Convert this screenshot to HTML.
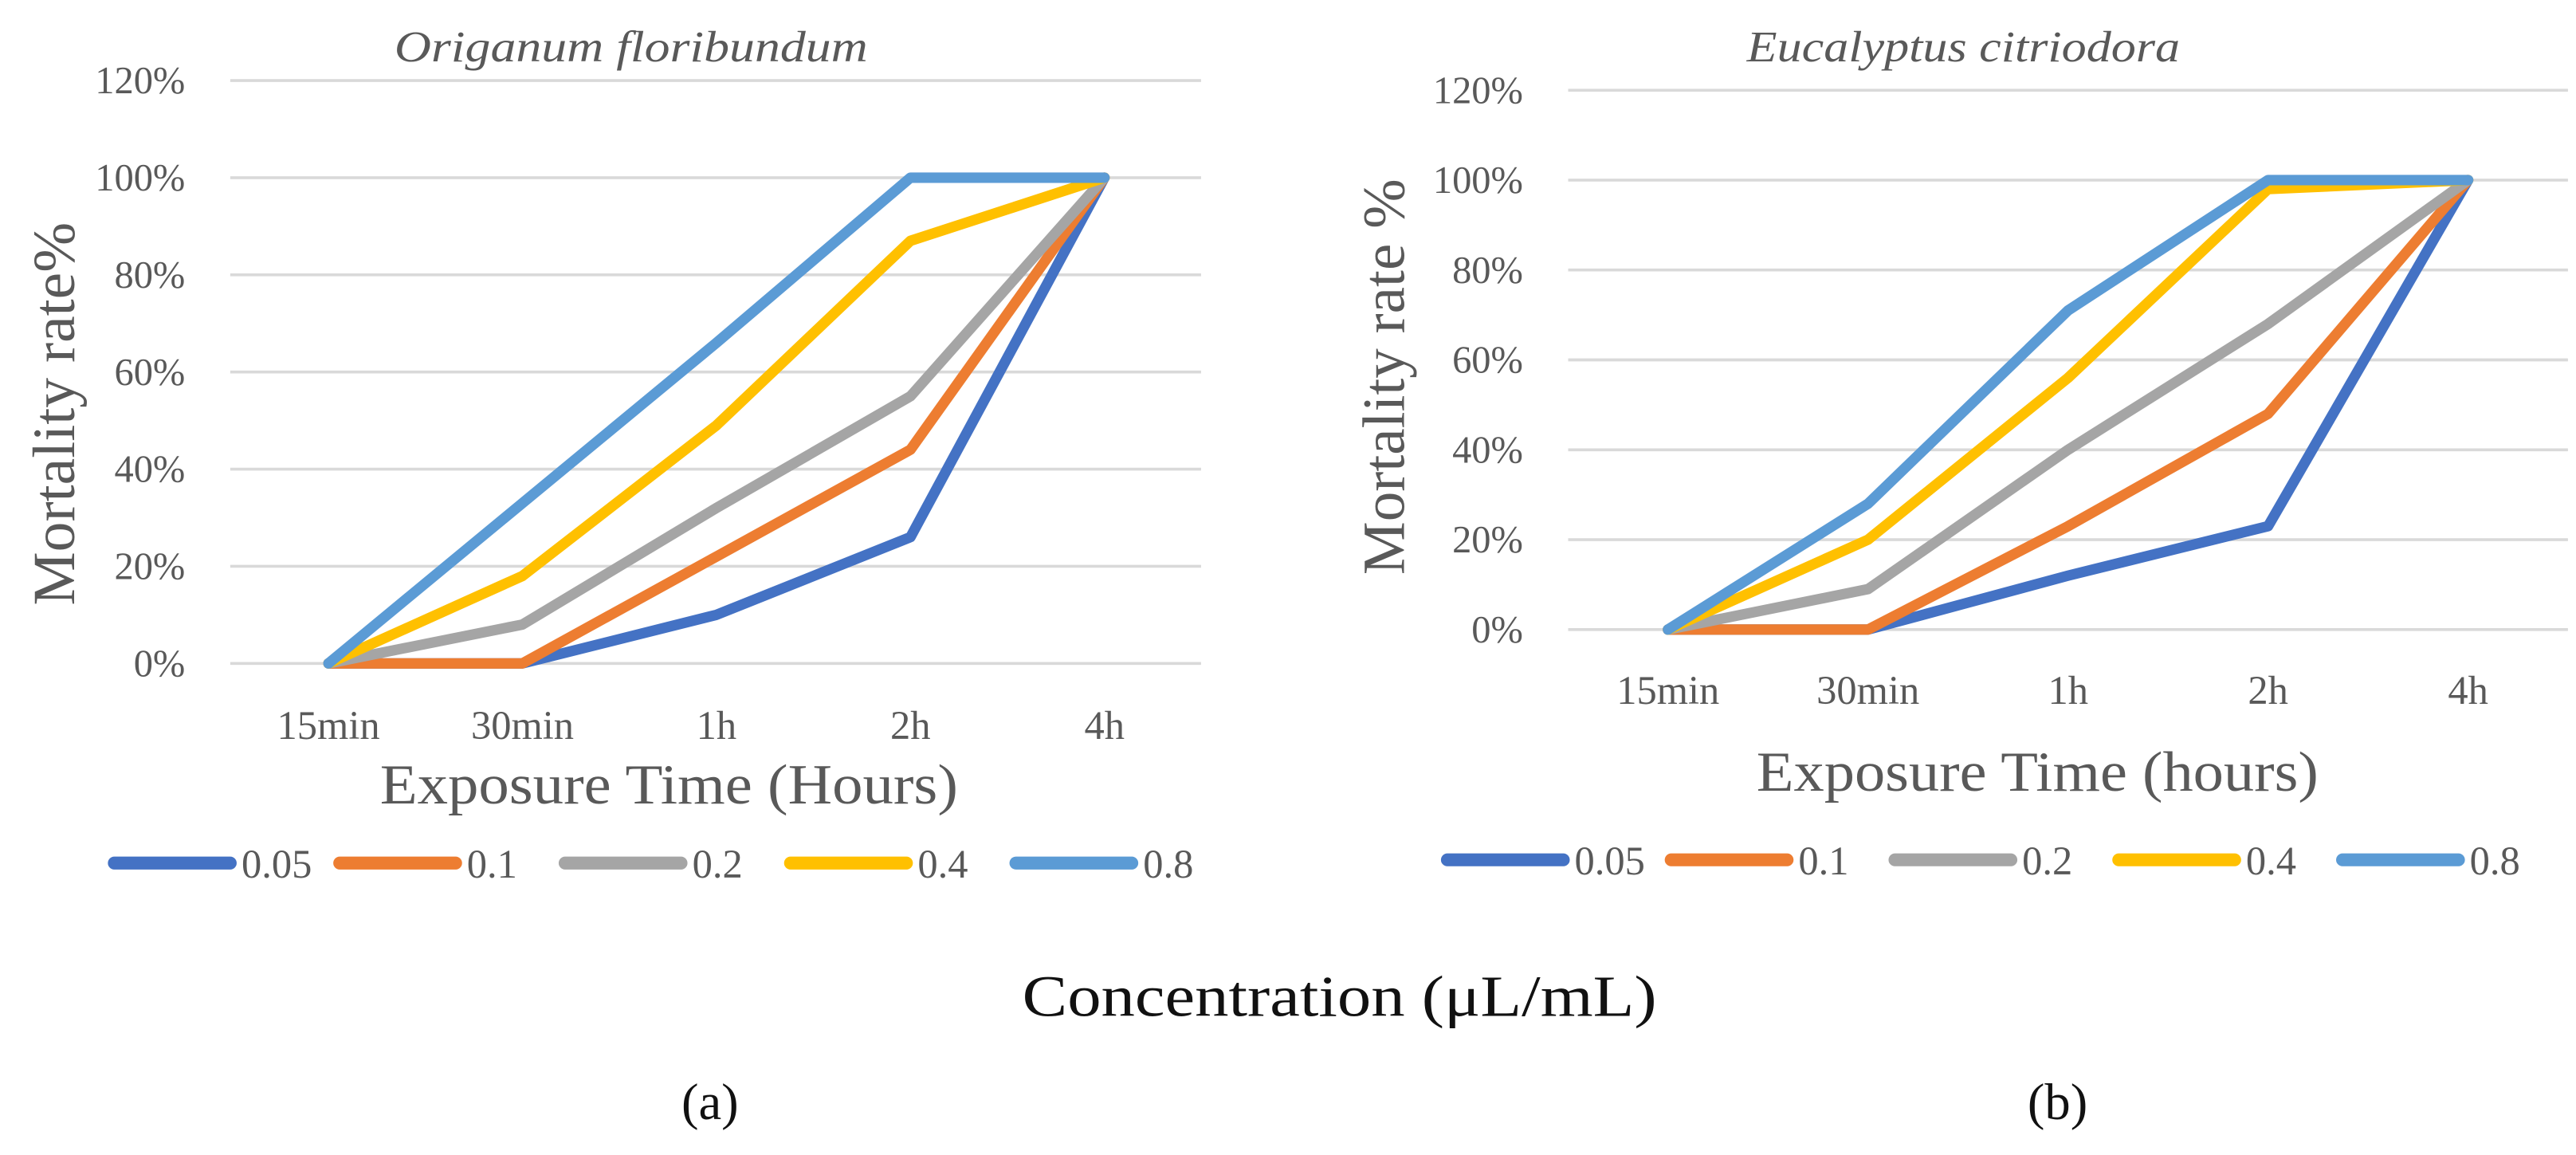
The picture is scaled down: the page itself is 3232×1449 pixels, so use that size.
<!DOCTYPE html>
<html><head><meta charset="utf-8"><style>
html,body{margin:0;padding:0;background:#fff;width:3232px;height:1449px;overflow:hidden}
svg text{font-family:"Liberation Serif",serif;fill:#595959}
</style></head><body>
<svg id="svg" width="3232" height="1449" viewBox="0 0 1600 717.3" xmlns="http://www.w3.org/2000/svg">
<text x="635" y="631" font-size="36" textLength="394" lengthAdjust="spacingAndGlyphs" style="fill:#111">Concentration (μL/mL)</text>
<text x="441" y="695" font-size="32" text-anchor="middle" style="fill:#111">(a)</text>
<text x="1278" y="695" font-size="32" text-anchor="middle" style="fill:#111">(b)</text>
</svg>
<script>
const categories = ["15min","30min","1h","2h","4h"];
const seriesNames = ["0.05","0.1","0.2","0.4","0.8"];
const colors = ["#4472C4","#ED7D31","#A5A5A5","#FFC000","#5B9BD5"];
const yTicks = [0,20,40,60,80,100,120];
const leftValues = [
 [0,0,10,26,100],
 [0,0,22,44,100],
 [0,8,32,55,100],
 [0,18,49,87,100],
 [0,33,66,100,100]
];
const rightValues = [
 [0,0,12,23,100],
 [0,0,23,48,100],
 [0,9,40,68,100],
 [0,20,56,98,100],
 [0,28,71,100,100]
];
const NS="http://www.w3.org/2000/svg";
const svg=document.getElementById('svg');
function mk(tag,attrs,parent){const e=document.createElementNS(NS,tag);for(const k in attrs)e.setAttribute(k,attrs[k]);(parent||svg).appendChild(e);return e;}
function panel(cfg,values){
  const g=mk('g',{});
  
  
  const y=v=>cfg.y0-(v/120)*(cfg.y0-cfg.y120);
  const x=i=>cfg.cx0+i*(cfg.cx4-cfg.cx0)/(categories.length-1);
  yTicks.forEach(t=>{
    const l=mk('line',{x1:cfg.gx0,x2:cfg.gx1,y1:y(t),y2:y(t),stroke:'#d9d9d9','stroke-width':1.8},g);
    
    
    const tx=mk('text',{x:cfg.tickRight,y:y(t)+8,'font-size':24,'text-anchor':'end'},g);
    tx.textContent=t+'%';
    
    
  });
  categories.forEach((c,i)=>{
    const tx=mk('text',{x:x(i),y:cfg.catY,'font-size':25,'text-anchor':'middle'},g);
    tx.textContent=c;
    
    
  });
  values.forEach((s,si)=>{
    const p=mk('polyline',{points:s.map((v,i)=>x(i)+','+y(v)).join(' '),fill:'none',stroke:colors[si],'stroke-width':6.5,'stroke-linejoin':'round','stroke-linecap':'round'},g);
    
    
  });
  const t=mk('text',{x:cfg.titleX,y:38,'font-size':27,'font-style':'italic',textLength:cfg.titleW,lengthAdjust:'spacingAndGlyphs'},g);
  t.textContent=cfg.title;
  
  
  const xt=mk('text',{x:cfg.xTitleX,y:cfg.xTitleY,'font-size':35,textLength:cfg.xTitleW,lengthAdjust:'spacingAndGlyphs'},g);
  xt.textContent=cfg.xTitle;
  
  
  const yt=mk('text',{x:-cfg.yTitleW/2,y:0,'font-size':37,textLength:cfg.yTitleW,lengthAdjust:'spacingAndGlyphs',transform:'translate('+cfg.yTitleX+','+cfg.yTitleY+') rotate(-90)'},g);
  yt.textContent=cfg.yTitle;
  
  
  seriesNames.forEach((n,i)=>{
    const lx=cfg.legX+i*cfg.legDx;
    const ln=mk('line',{x1:lx+4,x2:lx+76,y1:cfg.legY,y2:cfg.legY,stroke:colors[i],'stroke-width':8,'stroke-linecap':'round'},g);
    
    
    const lt=mk('text',{x:lx+83,y:cfg.legY+9,'font-size':25},g);
    lt.textContent=n;
    
    
  });
}
panel({id:'origanum',y0:412,y120:50,gx0:143,gx1:746,cx0:204,cx4:686,tickRight:115,catY:459,title:'Origanum floribundum',titleX:245,titleW:294,xTitle:'Exposure Time (Hours)',xTitleX:236,xTitleW:359,xTitleY:499,yTitle:'Mortality rate%',yTitleW:238,yTitleX:46,yTitleY:257,legX:67,legDx:140,legY:536},leftValues);
panel({id:'eucalyptus',y0:391,y120:56,gx0:974,gx1:1595,cx0:1036,cx4:1533,tickRight:946,catY:437,title:'Eucalyptus citriodora',titleX:1085,titleW:269,xTitle:'Exposure Time (hours)',xTitleX:1091,xTitleW:349,xTitleY:491,yTitle:'Mortality rate %',yTitleW:246,yTitleX:872,yTitleY:234,legX:895,legDx:139,legY:534},rightValues);
</script>
</body></html>
